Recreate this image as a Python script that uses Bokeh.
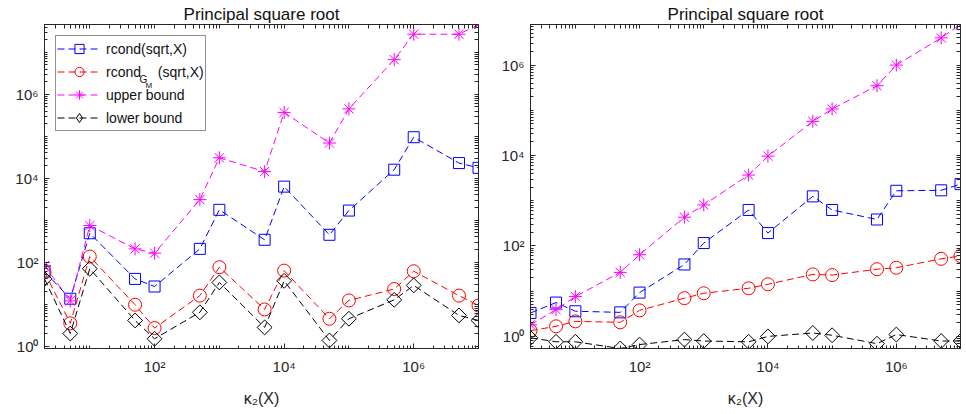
import math
from bokeh.plotting import figure
from bokeh.models import (LogAxis, FixedTicker, Legend, LegendItem, Range1d,
                          CustomJSTickFormatter, ColumnDataSource)
from bokeh.core.properties import value
from bokeh.layouts import row
from bokeh.embed import file_html
from bokeh.resources import INLINE

# ---- data ----
kappa = [2, 5, 10, 50, 100, 500, 1e3, 5e3, 1e4, 5e4, 1e5, 5e5, 1e6, 5e6, 1e7]

left_rcond = [60, 13.5, 490, 40, 26.4, 208, 1770, 342, 6320, 450, 1700, 16000, 9.5e4, 2.3e4, 1.77e4]
left_rcond_gm = [58, 3.5, 136, 9.7, 2.7, 16, 76, 7.5, 63, 4.5, 12.3, 23, 61, 16, 9.3]
left_upper = [83, 12, 748, 208, 164, 3100, 30700, 14400, 3.7e5, 6.9e4, 4.5e5, 6.7e6, 2.7e7, 2.7e7, 4.6e7]
left_lower = [40, 2.0, 70, 4.1, 1.5, 6.4, 33, 2.8, 36, 1.37, 4.5, 12.7, 28, 5.4, 4.1]

right_rcond = [3.3, 5.6, 3.6, 3.4, 9.3, 39, 116, 625, 193, 1250, 625, 385, 1660, 1700, 2330]
right_rcond_gm = [1.34, 1.67, 2.15, 2.05, 3.76, 7.0, 9.0, 11.6, 14.2, 23.5, 22.7, 30.6, 33, 52, 60]
right_upper = [1.8, 3.9, 7.6, 26, 64, 433, 808, 3700, 9700, 5.7e4, 1.07e5, 3.5e5, 1e6, 4.0e6, 7.9e6]
right_lower = [0.93, 0.76, 0.76, 0.54, 0.66, 0.85, 0.79, 0.76, 1.0, 1.19, 1.06, 0.69, 1.1, 0.79, 0.79]

series_labels = ["rcond(sqrt,X)", "rcond\u2002\u2002\u2009(sqrt,X)", "upper bound", "lower bound"]
title_text = "Principal square root"
x_label = "\u03ba\u2082(X)"

x_major = [1e2, 1e4, 1e6]
y_major = [1, 1e2, 1e4, 1e6]
minor = [k * 10.0 ** e for e in range(-1, 9) for k in range(2, 10)] + \
        [10.0 ** e for e in (-1, 1, 3, 5, 7)]

AX = "#262626"
FONT = "Liberation Sans"
H = 412

fmt = CustomJSTickFormatter(code="""
const e = Math.round(Math.log10(tick));
const sup = {"0":"\u2070","1":"\u00b9","2":"\u00b2","3":"\u00b3","4":"\u2074","5":"\u2075","6":"\u2076","7":"\u2077","8":"\u2078","9":"\u2079","-":"\u207b"};
return "10" + String(e).split("").map(c => sup[c]).join("");
""")


def style_axis(ax):
    ax.axis_line_color = AX
    ax.axis_line_width = 1
    ax.major_tick_line_color = AX
    ax.minor_tick_line_color = AX
    ax.major_tick_in = 5
    ax.major_tick_out = 0
    ax.minor_tick_in = 3
    ax.minor_tick_out = 0
    ax.major_label_text_color = AX
    ax.major_label_text_font = FONT
    ax.major_label_text_font_size = "15px"
    ax.major_label_standoff = 9


def hidden_axis(major):
    ax = LogAxis(ticker=FixedTicker(ticks=[], minor_ticks=minor + major))
    ax.axis_line_color = AX
    ax.minor_tick_line_color = AX
    ax.minor_tick_in = 4
    ax.minor_tick_out = 0
    ax.major_tick_in = 0
    ax.major_tick_out = 0
    return ax


def panel(yr, vals, width, bl, br, bb, legend):
    p = figure(width=width, height=H, x_axis_type="log", y_axis_type="log",
               x_range=Range1d(2, 1e7), y_range=Range1d(*yr),
               output_backend="svg", toolbar_location=None,
               min_border_left=bl, min_border_right=br, min_border_top=24,
               min_border_bottom=bb)
    p.title.text = title_text
    p.title.align = "center"
    p.title.text_font = FONT
    p.title.text_font_size = "17px"
    p.title.text_font_style = "normal"
    p.title.text_color = "#111111"
    p.title.standoff = 2
    p.grid.visible = False
    p.outline_line_color = AX
    p.background_fill_color = "white"

    p.xaxis.ticker = FixedTicker(ticks=x_major, minor_ticks=minor)
    p.yaxis.ticker = FixedTicker(ticks=y_major, minor_ticks=minor)
    p.xaxis.formatter = fmt
    p.yaxis.formatter = fmt
    style_axis(p.xaxis[0])
    style_axis(p.yaxis[0])
    p.yaxis.major_label_standoff = 6
    p.xaxis.axis_label = x_label
    p.xaxis.axis_label_text_font = FONT
    p.xaxis.axis_label_text_font_size = "16px"
    p.xaxis.axis_label_text_font_style = "normal"
    p.xaxis.axis_label_text_color = AX
    p.xaxis.axis_label_standoff = 12

    p.add_layout(hidden_axis(x_major), "above")
    p.add_layout(hidden_axis(y_major), "right")

    specs = [("#0000ff", "square", 11, 0.0, "square"),
             ("#ff0000", "circle", 13, 0.0, None),
             ("#ff00ff", "asterisk", 13, 0.0, None),
             ("#000000", "square", 10.5, math.pi / 4, "diamond")]
    items = []
    for (c, m, s, a, lm), v, lab in zip(specs, vals, series_labels):
        src = ColumnDataSource(dict(x=kappa, y=v, ang=[a] * len(kappa)))
        rl = p.line("x", "y", source=src, line_color=c, line_dash="7 4", line_width=1)
        rm = p.scatter("x", "y", source=src, marker=m, size=s, angle="ang",
                       line_color=c, fill_color=None, line_width=1)
        rend = [rl, rm]
        if lm == "diamond":
            # legend-only sample: the legend draws markers unrotated
            rleg = p.scatter("x", "y", source=src, marker="diamond", size=s,
                             line_color=c, fill_color=None, line_width=1,
                             visible=False)
            rend = [rl, rleg]
        items.append(LegendItem(label=lab, renderers=rend))

    if legend:
        lg = Legend(items=items, location="top_left", margin=11, padding=1,
                    spacing=0, label_height=18, glyph_height=23, glyph_width=44,
                    label_standoff=5, label_text_font=FONT,
                    label_text_font_size="14px", label_text_color="#111111",
                    border_line_color=AX, border_line_width=1,
                    background_fill_alpha=0)
        p.add_layout(lg)
        p.text(x=[58.4], y=[2.30e6], text=["G"], text_font=value(FONT),
               text_font_size=value("10px"), text_color="#111111",
               text_baseline="middle", text_align="left")
        p.text(x=[72.3], y=[1.66e6], text=["M"], text_font=value(FONT),
               text_font_size=value("8px"), text_color="#111111",
               text_baseline="middle", text_align="left")
    return p


p1 = panel((0.88, 4.6e7), [left_rcond, left_rcond_gm, left_upper, left_lower],
           498, 44, 20, 64, True)
p2 = panel((0.54, 7.9e6), [right_rcond, right_rcond_gm, right_upper, right_lower],
           466, 30, 4, 61, False)

layout = row(p1, p2)
open("out.html", "w").write(file_html(layout, INLINE))
